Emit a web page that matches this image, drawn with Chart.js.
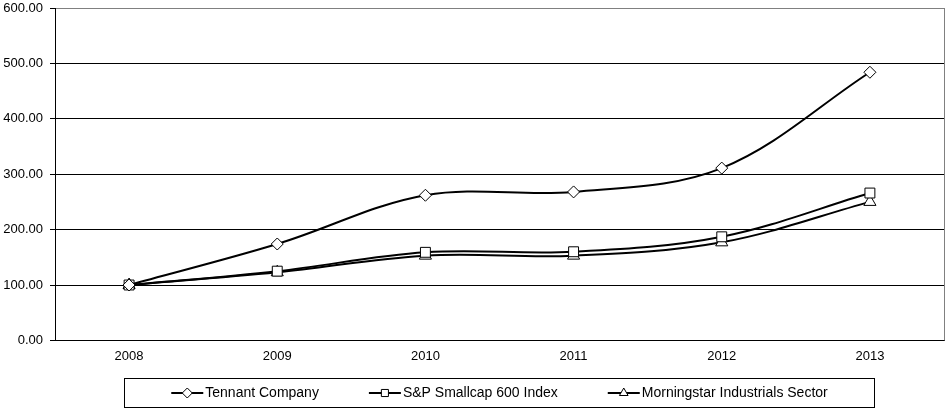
<!DOCTYPE html>
<html>
<head>
<meta charset="utf-8">
<script src="https://cdn.jsdelivr.net/npm/chart.js@4/dist/chart.umd.min.js"></script>
<style>
  html, body { margin: 0; padding: 0; background: #fff; }
  #wrap { width: 952px; height: 410px; position: relative; }
</style>
</head>
<body>
<div id="wrap"><canvas id="chart"></canvas></div>
<script>
const YEARS = ['2008', '2009', '2010', '2011', '2012', '2013'];
const TENNANT = [100, 174, 262, 268, 311, 484];
const SP600 = [100, 125, 159, 160, 187, 266];
const MORNINGSTAR = [100, 123, 153, 153, 177, 250];

const FONT = '"Liberation Sans", Arial, sans-serif';

function make_dataset(label, data, style, radius) {
  return {
    label: label,
    data: data,
    borderColor: '#000',
    borderWidth: 2,
    tension: 0.35,
    pointStyle: style,
    pointRadius: radius,
    pointHoverRadius: radius,
    pointBackgroundColor: '#fff',
    pointBorderColor: '#000',
    pointBorderWidth: 1,
  };
}

// legend drawn by hand: line + marker, boxed, centred under plot area
const legendBox = {
  id: 'legendBox',
  afterDraw(chart) {
    const ctx = chart.ctx;
    const area = chart.chartArea;
    ctx.save();
    ctx.font = '14px ' + FONT;
    const lineLen = 32;
    const items = chart.data.datasets.map(ds => ({
      ds, w: lineLen + 2 + ctx.measureText(ds.label).width,
    }));
    const gap = 50, pad = 47;
    const total = items.reduce((s, i) => s + i.w, 0) + gap * (items.length - 1);
    const cx = (area.left + area.right) / 2;
    const y = chart.height - 17;
    ctx.strokeStyle = '#000';
    ctx.lineWidth = 1;
    ctx.strokeRect(Math.round(cx - total / 2 - pad) + 0.5, Math.round(y - 15) + 0.5, Math.round(total + 2 * pad), 29);
    let x = cx - total / 2;
    for (const it of items) {
      ctx.strokeStyle = '#000';
      ctx.lineWidth = 2;
      ctx.beginPath();
      ctx.moveTo(x, y);
      ctx.lineTo(x + lineLen, y);
      ctx.stroke();
      ctx.fillStyle = '#fff';
      ctx.lineWidth = 1;
      Chart.helpers.drawPoint(ctx, {pointStyle: it.ds.pointStyle, radius: 5, rotation: 0, borderWidth: 1}, x + lineLen / 2, y);
      ctx.fillStyle = '#000';
      ctx.textBaseline = 'middle';
      ctx.textAlign = 'left';
      ctx.fillText(it.ds.label, x + lineLen + 2, y);
      x += it.w + gap;
    }
    // grey right frame
    ctx.strokeStyle = '#808080';
    ctx.lineWidth = 1;
    ctx.beginPath();
    ctx.moveTo(Math.round(area.right) + 0.5, area.top);
    ctx.lineTo(Math.round(area.right) + 0.5, area.bottom);
    ctx.stroke();
    ctx.restore();
  }
};

const CHART = new Chart(document.getElementById('chart'), {
  type: 'line',
  data: {
    labels: YEARS,
    datasets: [
      make_dataset('Tennant Company', TENNANT, 'rectRot', 6),
      make_dataset('S&P Smallcap 600 Index', SP600, 'rect', 7),
      make_dataset('Morningstar Industrials Sector', MORNINGSTAR, 'triangle', 7),
    ],
  },
  options: {
    responsive: true,
    maintainAspectRatio: false,
    animation: false,
    layout: {
      padding: {left: 0, right: 7, top: 6, bottom: 38},
    },
    scales: {
      x: {
        offset: true,
        grid: {display: false, drawTicks: false},
        border: {color: '#000', width: 1},
        ticks: {color: '#000', font: {family: FONT, size: 13}, padding: 8, maxRotation: 0},
      },
      y: {
        min: 0,
        max: 600,
        afterFit: s => { s.width = 55; s.paddingTop = 0; s.paddingBottom = 0; },
        grid: {
          color: c => (c.tick && c.tick.value === 600 ? '#808080' : '#000'),
          tickColor: '#000',
          tickLength: 5,
        },
        border: {color: '#000', width: 1},
        ticks: {
          stepSize: 100,
          color: '#000',
          padding: 7,
          font: {family: FONT, size: 13},
          callback: v => v.toFixed(2),
        },
      },
    },
    plugins: {
      legend: {display: false},
      tooltip: {enabled: false},
    },
  },
  plugins: [legendBox],
});
</script>
</body>
</html>
